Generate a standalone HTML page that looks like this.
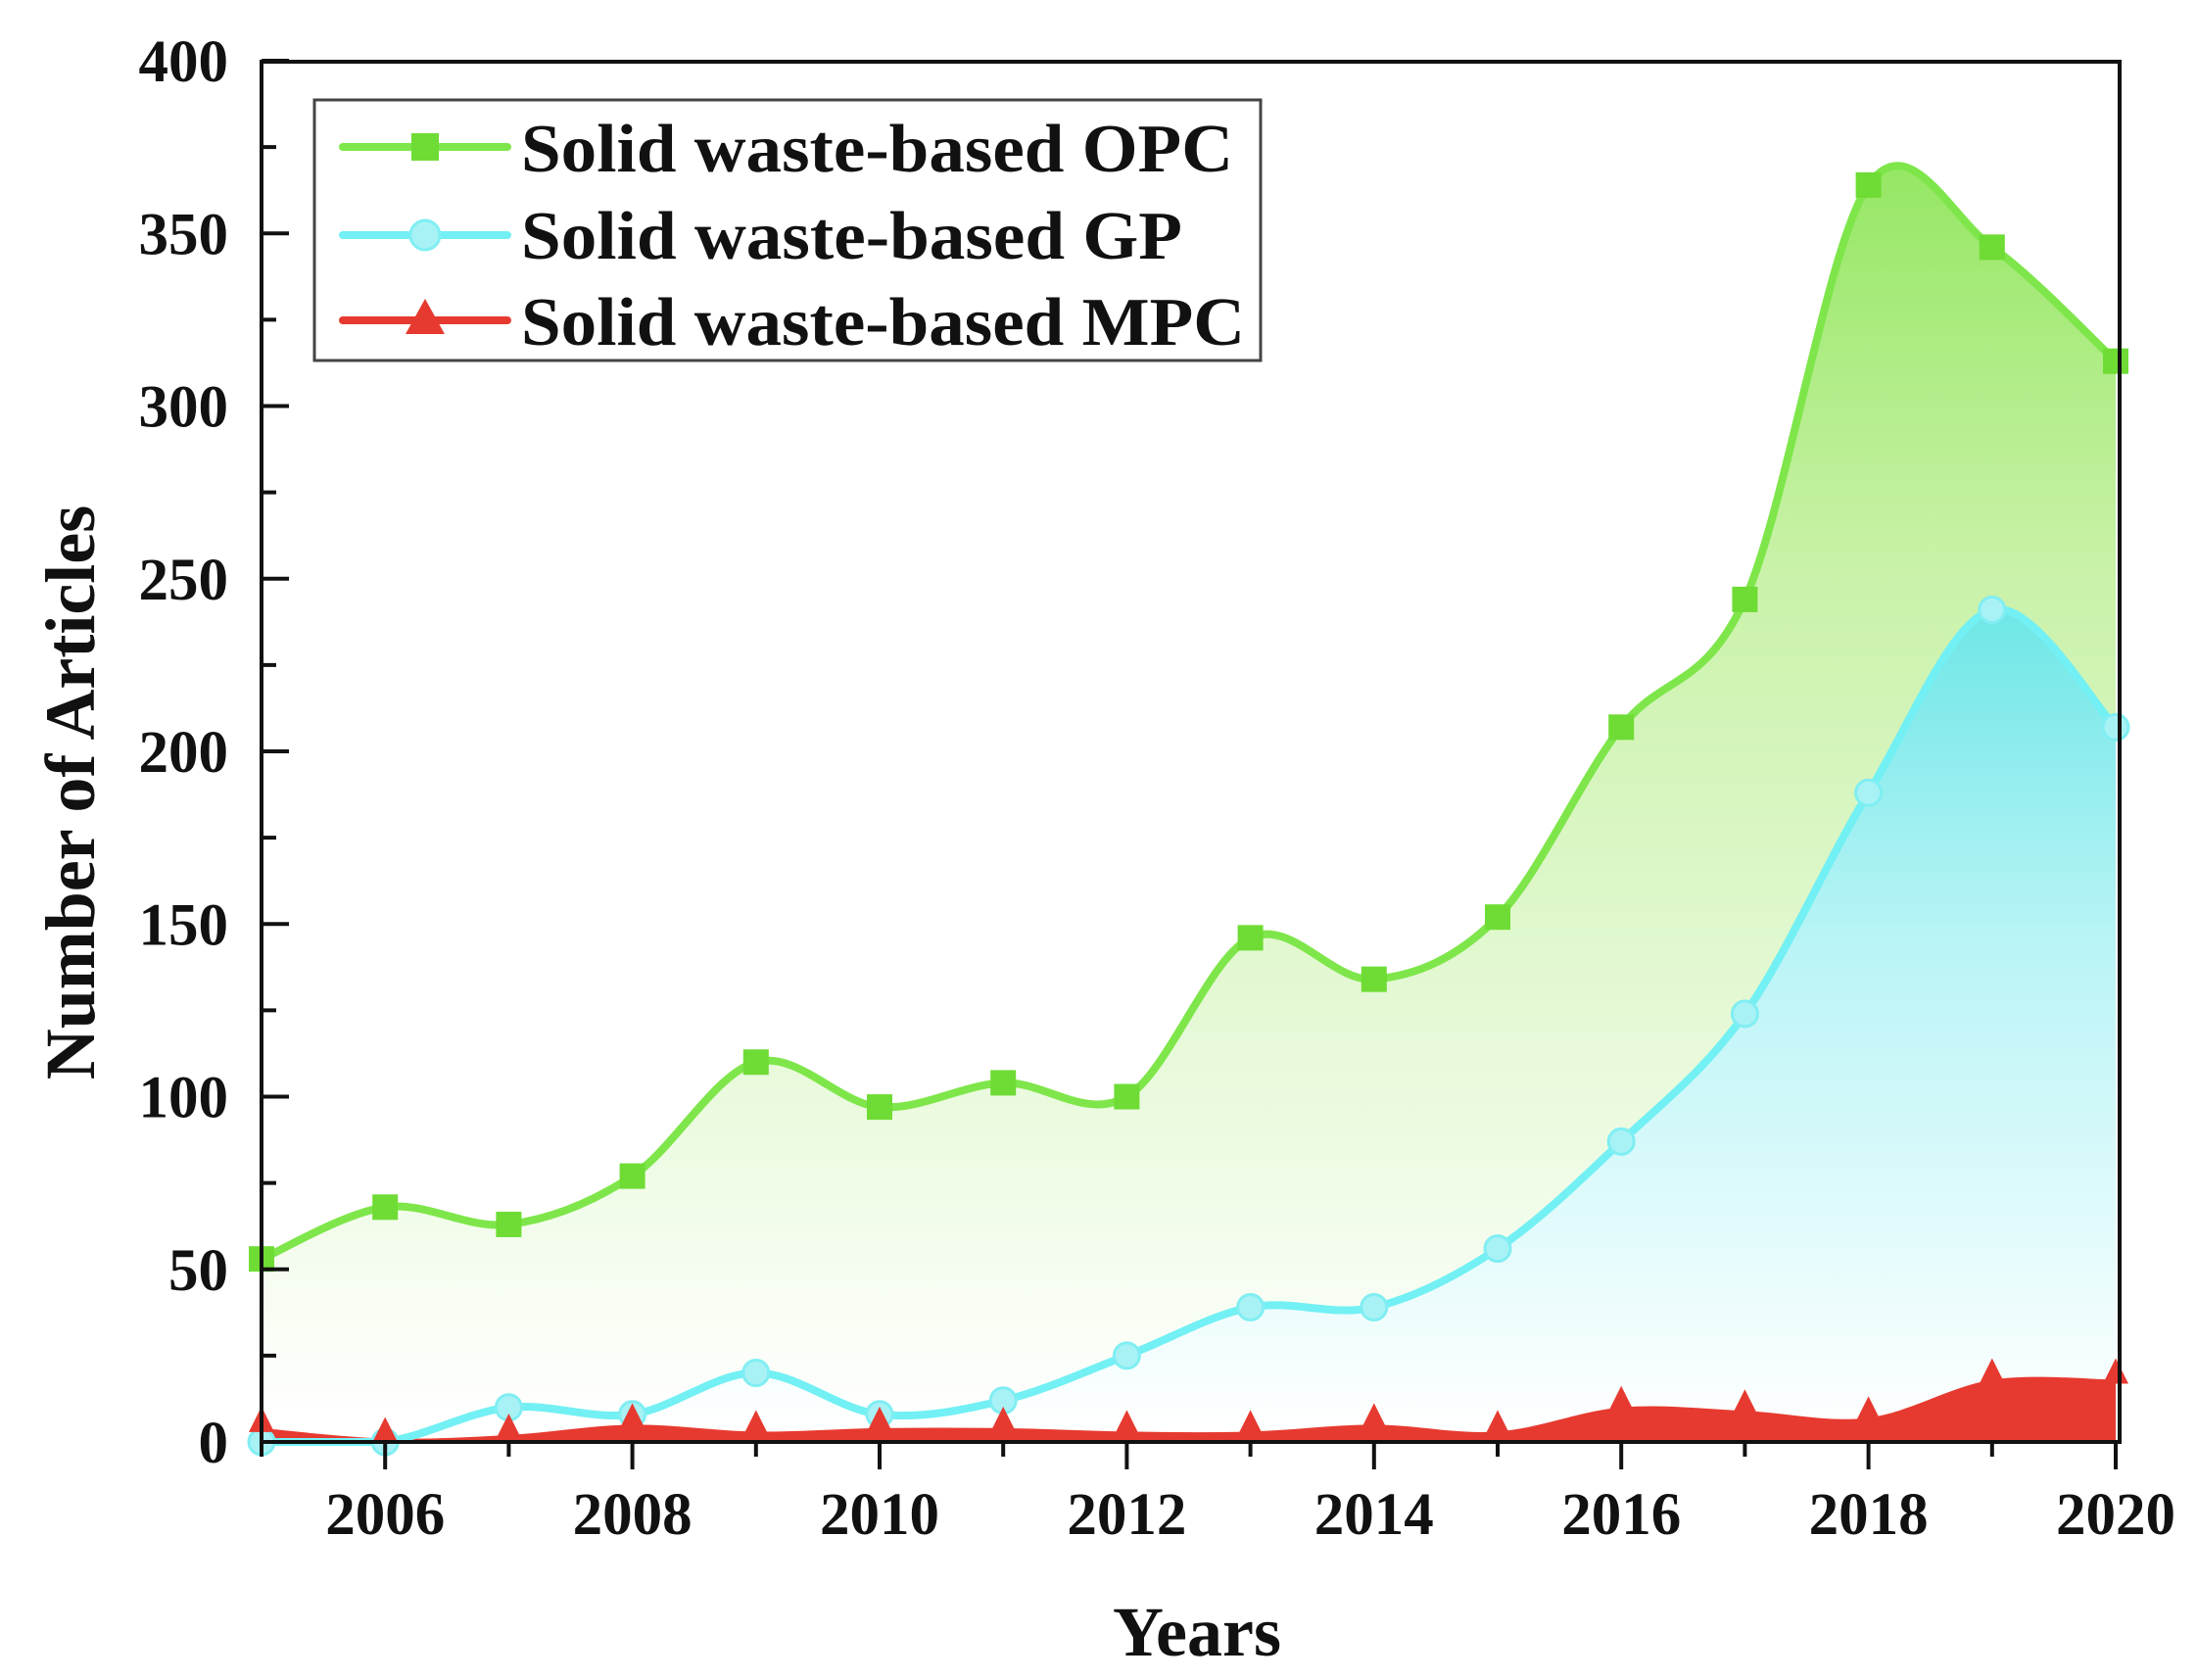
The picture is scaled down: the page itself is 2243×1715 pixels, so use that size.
<!DOCTYPE html>
<html><head><meta charset="utf-8"><style>
html,body{margin:0;padding:0;background:#fff;}
svg{display:block;}
text{font-family:"Liberation Serif","Times New Roman",serif;font-weight:bold;fill:#111;}
</style></head><body>
<svg id="s" width="2243" height="1715" viewBox="0 0 2243 1715" xmlns="http://www.w3.org/2000/svg">
<defs>
<linearGradient id="gO" x1="0" y1="110" x2="0" y2="1450" gradientUnits="userSpaceOnUse">
<stop offset="0" stop-color="#8ee55a"/><stop offset="0.35" stop-color="#c9f2a8"/><stop offset="1" stop-color="#ffffff"/></linearGradient>
<linearGradient id="gG" x1="0" y1="620" x2="0" y2="1460" gradientUnits="userSpaceOnUse">
<stop offset="0" stop-color="#6ee6e6"/><stop offset="0.4" stop-color="#b8f4f6"/><stop offset="1" stop-color="#ffffff"/></linearGradient>
</defs>
<g id="plot"></g>
<rect x="267" y="63" width="1897" height="1409" fill="none" stroke="#111" stroke-width="4"/>
<g id="ticks" stroke="#111" stroke-width="4"></g>
<g id="labels" font-size="61"></g>
<rect x="321" y="102" width="966" height="266" fill="#fff" stroke="#444" stroke-width="3"/>
<line x1="350" y1="150" x2="518" y2="150" stroke="#7ee64a" stroke-width="8" stroke-linecap="round"/>
<rect x="420" y="136" width="28" height="28" fill="#6edc34"/>
<line x1="350" y1="240" x2="518" y2="240" stroke="#72f0f4" stroke-width="8" stroke-linecap="round"/>
<circle cx="434" cy="240" r="15" fill="#a8f2f6" stroke="#80eef2" stroke-width="3"/>
<line x1="350" y1="327" x2="518" y2="327" stroke="#e63a30" stroke-width="8" stroke-linecap="round"/>
<polygon points="434,305 414,341 454,341" fill="#e63a30"/>
<text x="532" y="175" font-size="70" textLength="727" lengthAdjust="spacingAndGlyphs">Solid waste-based OPC</text>
<text x="532" y="264" font-size="70" textLength="675" lengthAdjust="spacingAndGlyphs">Solid waste-based GP</text>
<text x="532" y="352" font-size="70" textLength="739" lengthAdjust="spacingAndGlyphs">Solid waste-based MPC</text>
<text x="1222" y="1690" font-size="72" text-anchor="middle">Years</text>
<text transform="translate(96,809) rotate(-90)" font-size="72" text-anchor="middle">Number of Articles</text>
</svg>
<script>
var X0=267,DX=126.2,Y0=1472,DY=176.25/50;
function px(i){return X0+i*DX;} function py(v){return Y0-v*DY;}
var opc=[53,68,63,77,110,97,104,100,146,134,152,207,244,364,346,313];
var gp=[0,0,10,8,20,8,12,25,39,39,56,87,124,188,241,207];
var mpc=[4,1,2,5,3,4,4,3,3,5,3,10,9,7,18,18];
function curve(d){var p=d.map(function(v,i){return [px(i),py(v)];});
 var s="M"+p[0][0]+","+p[0][1];
 for(var i=0;i<p.length-1;i++){var a=p[Math.max(i-1,0)],b=p[i],c=p[i+1],e=p[Math.min(i+2,p.length-1)];
  var c1=[b[0]+(c[0]-a[0])/6,b[1]+(c[1]-a[1])/6],c2=[c[0]-(e[0]-b[0])/6,c[1]-(e[1]-b[1])/6];
  s+=" C"+c1[0].toFixed(1)+","+Math.min(c1[1],Y0).toFixed(1)+" "+c2[0].toFixed(1)+","+Math.min(c2[1],Y0).toFixed(1)+" "+c[0]+","+c[1];}
 return s;}
var NS="http://www.w3.org/2000/svg",g=document.getElementById("plot");
function el(t,a,par){var e=document.createElementNS(NS,t);for(var k in a)e.setAttribute(k,a[k]);(par||g).appendChild(e);return e;}
var xe=px(15);
function area(d,fill){el("path",{d:curve(d)+" L"+xe+","+Y0+" L"+X0+","+Y0+" Z",fill:fill});}
area(opc,"url(#gO)");area(gp,"url(#gG)");area(mpc,"#e63a30");
el("path",{d:curve(opc),fill:"none",stroke:"#7ee64a","stroke-width":8});
el("path",{d:curve(gp),fill:"none",stroke:"#72f0f4","stroke-width":8});
for(var i=0;i<16;i++){
 el("rect",{x:px(i)-13,y:py(opc[i])-13,width:26,height:26,fill:"#6edc34"});
 el("circle",{cx:px(i),cy:py(gp[i]),r:13,fill:"#a8f2f6",stroke:"#80eef2","stroke-width":3});
 var x=px(i),y=py(mpc[i]);
 el("polygon",{points:x+","+(y-22)+" "+(x-13)+","+(y+4)+" "+(x+13)+","+(y+4),fill:"#e63a30"});
}
var tk=document.getElementById("ticks"),lb=document.getElementById("labels");
for(var i=0;i<16;i++){var x=px(i),maj=(i%2==1);
 el("line",{x1:x,y1:Y0,x2:x,y2:Y0+(maj?28:15)},tk);
 if(maj){var t=el("text",{x:x,y:1566,"text-anchor":"middle"},lb);t.textContent=2005+i;}}
for(var v=0;v<=400;v+=25){var y=py(v),maj=(v%50==0);
 el("line",{x1:267,y1:y,x2:267+(maj?28:15),y2:y},tk);
 if(maj){var t=el("text",{x:233,y:y+21,"text-anchor":"end"},lb);t.textContent=v;}}
</script>
</body></html>
